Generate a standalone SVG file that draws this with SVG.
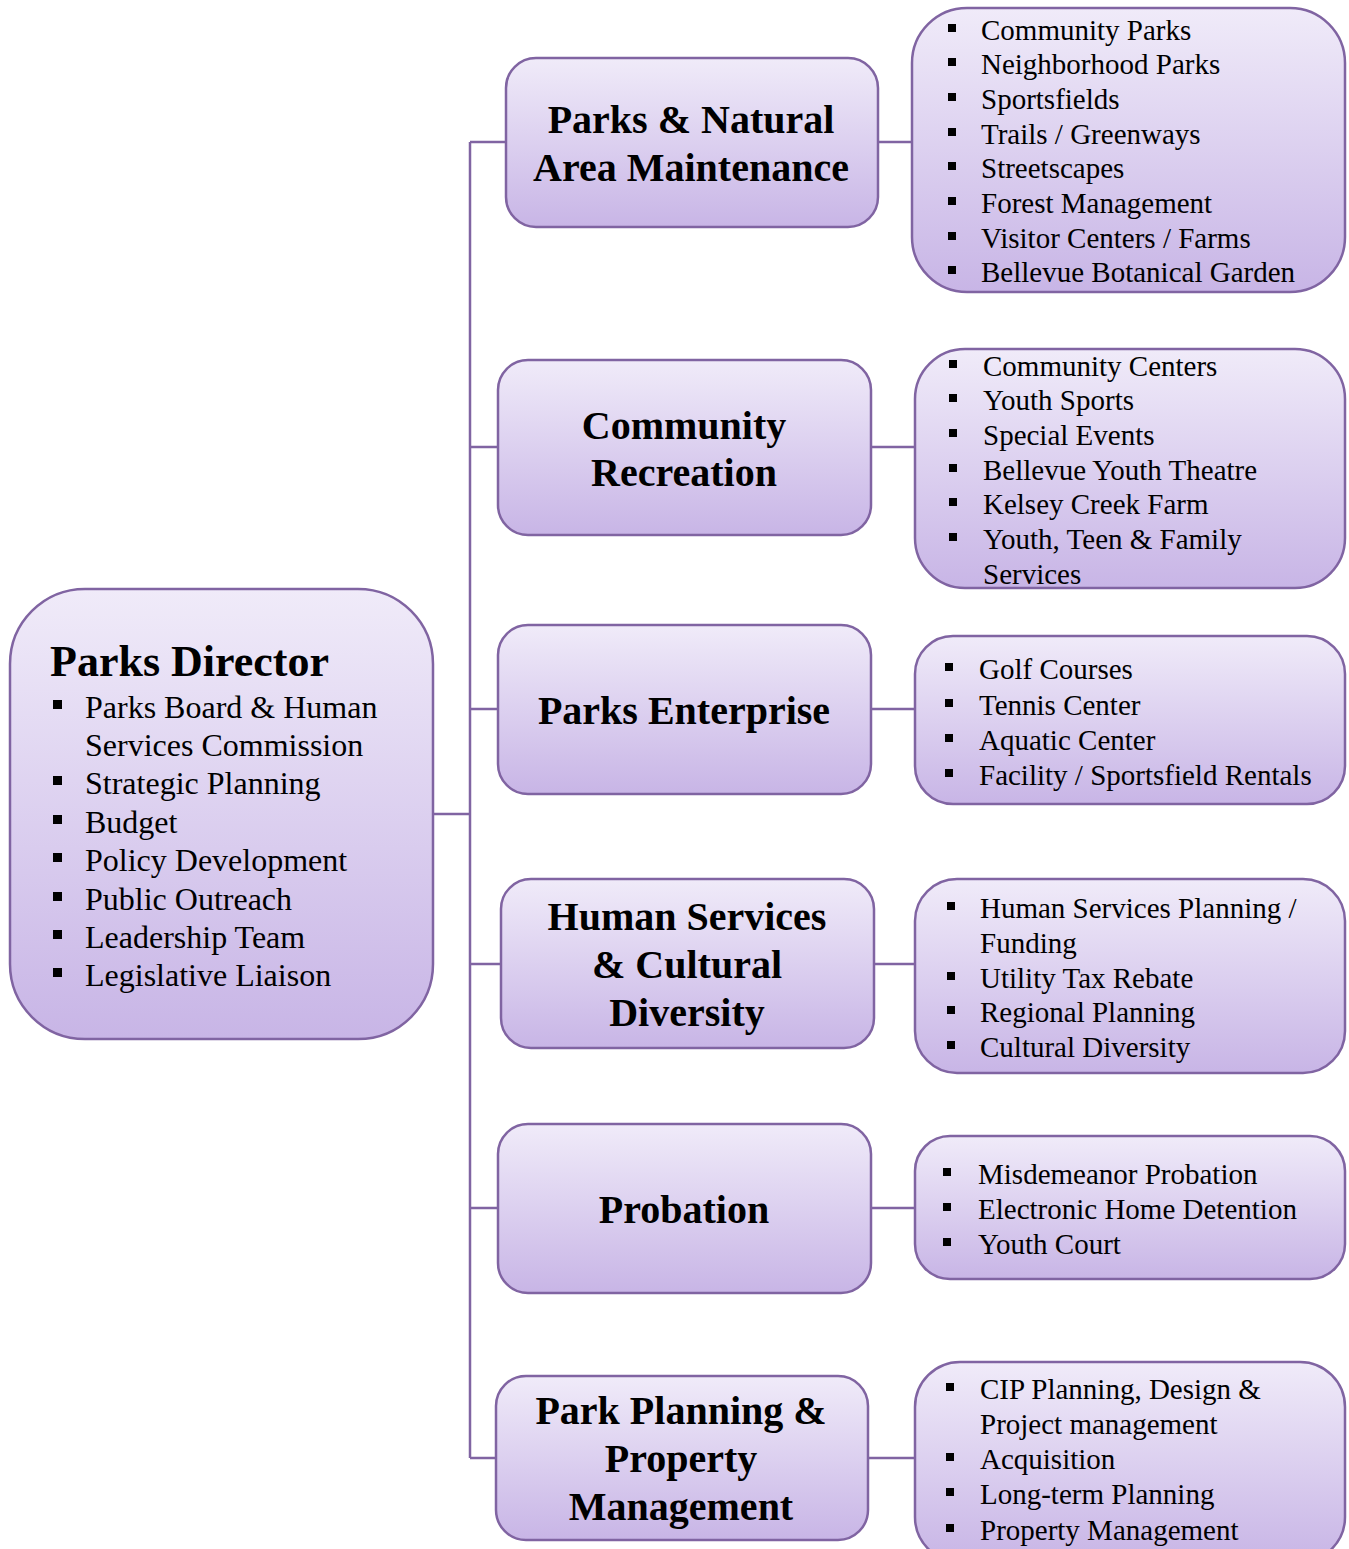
<svg xmlns="http://www.w3.org/2000/svg" width="1349" height="1549" viewBox="0 0 1349 1549">
<defs>
<linearGradient id="g" x1="0" y1="0" x2="0" y2="1">
<stop offset="0" stop-color="#F0EBF9"/>
<stop offset="1" stop-color="#C8B5E6"/>
</linearGradient>
</defs>
<style>
.box{fill:url(#g);stroke:#8064A2;stroke-width:2.5}
.conn{stroke:#8064A2;stroke-width:2.5;fill:none}
.t{font-family:"Liberation Serif","Times New Roman",serif;font-weight:bold;font-size:40px;fill:#000;text-anchor:middle}
.dt{font-family:"Liberation Serif","Times New Roman",serif;font-weight:bold;font-size:44px;fill:#000}
.i{font-family:"Liberation Serif","Times New Roman",serif;font-size:29px;fill:#000}
.di{font-family:"Liberation Serif","Times New Roman",serif;font-size:32px;fill:#000}
.b{fill:#000}
</style>
<rect width="1349" height="1549" fill="#fff"/>
<g id="connectors">
<path class="conn" d="M470 142V1458"/>
<path class="conn" d="M433 814H470"/>
<path class="conn" d="M470 142H506M878 142H912"/>
<path class="conn" d="M470 447H498M871 447H915"/>
<path class="conn" d="M470 709H498M871 709H915"/>
<path class="conn" d="M470 964H501M874 964H915"/>
<path class="conn" d="M470 1208H498M871 1208H915"/>
<path class="conn" d="M470 1458H496M868 1458H915"/>
</g>
<g id="director">
<rect class="box" x="10" y="589" width="423" height="450" rx="75"/>
<text class="dt" x="50" y="676">Parks Director</text>
<g class="b">
<rect x="53" y="700" width="9" height="9"/><rect x="53" y="776" width="9" height="9"/><rect x="53" y="815" width="9" height="9"/><rect x="53" y="853" width="9" height="9"/><rect x="53" y="892" width="9" height="9"/><rect x="53" y="930" width="9" height="9"/><rect x="53" y="968" width="9" height="9"/>
</g>
<text class="di" x="85" y="718">Parks Board &amp; Human</text>
<text class="di" x="85" y="756">Services Commission</text>
<text class="di" x="85" y="794">Strategic Planning</text>
<text class="di" x="85" y="833">Budget</text>
<text class="di" x="85" y="871">Policy Development</text>
<text class="di" x="85" y="910">Public Outreach</text>
<text class="di" x="85" y="948">Leadership Team</text>
<text class="di" x="85" y="986">Legislative Liaison</text>
</g>
<g id="pnam">
<rect class="box" x="506" y="58" width="372" height="169" rx="30"/>
<text class="t" x="691" y="133">Parks &amp; Natural</text>
<text class="t" x="691" y="181">Area Maintenance</text>
</g>
<g id="pnam-list">
<rect class="box" x="912" y="8" width="433" height="284" rx="55"/>
<g class="b">
<rect x="948" y="24" width="8" height="8"/><rect x="948" y="58" width="8" height="8"/><rect x="948" y="93" width="8" height="8"/><rect x="948" y="128" width="8" height="8"/><rect x="948" y="162" width="8" height="8"/><rect x="948" y="197" width="8" height="8"/><rect x="948" y="232" width="8" height="8"/><rect x="948" y="266" width="8" height="8"/>
</g>
<text class="i" x="981" y="40">Community Parks</text>
<text class="i" x="981" y="74">Neighborhood Parks</text>
<text class="i" x="981" y="109">Sportsfields</text>
<text class="i" x="981" y="144">Trails / Greenways</text>
<text class="i" x="981" y="178">Streetscapes</text>
<text class="i" x="981" y="213">Forest Management</text>
<text class="i" x="981" y="248">Visitor Centers / Farms</text>
<text class="i" x="981" y="282">Bellevue Botanical Garden</text>
</g>
<g id="rec">
<rect class="box" x="498" y="360" width="373" height="175" rx="30"/>
<text class="t" x="684" y="439">Community</text>
<text class="t" x="684" y="486">Recreation</text>
</g>
<g id="rec-list">
<rect class="box" x="915" y="349" width="430" height="239" rx="50"/>
<g class="b">
<rect x="949" y="360" width="8" height="8"/><rect x="949" y="394" width="8" height="8"/><rect x="949" y="429" width="8" height="8"/><rect x="949" y="464" width="8" height="8"/><rect x="949" y="498" width="8" height="8"/><rect x="949" y="533" width="8" height="8"/>
</g>
<text class="i" x="983" y="376">Community Centers</text>
<text class="i" x="983" y="410">Youth Sports</text>
<text class="i" x="983" y="445">Special Events</text>
<text class="i" x="983" y="480">Bellevue Youth Theatre</text>
<text class="i" x="983" y="514">Kelsey Creek Farm</text>
<text class="i" x="983" y="549">Youth, Teen &amp; Family</text>
<text class="i" x="983" y="584">Services</text>
</g>
<g id="ent">
<rect class="box" x="498" y="625" width="373" height="169" rx="30"/>
<text class="t" x="684" y="724">Parks Enterprise</text>
</g>
<g id="ent-list">
<rect class="box" x="915" y="636" width="430" height="168" rx="38"/>
<g class="b">
<rect x="945" y="663" width="8" height="8"/><rect x="945" y="699" width="8" height="8"/><rect x="945" y="734" width="8" height="8"/><rect x="945" y="769" width="8" height="8"/>
</g>
<text class="i" x="979" y="679">Golf Courses</text>
<text class="i" x="979" y="715">Tennis Center</text>
<text class="i" x="979" y="750">Aquatic Center</text>
<text class="i" x="979" y="785">Facility / Sportsfield Rentals</text>
</g>
<g id="hs">
<rect class="box" x="501" y="879" width="373" height="169" rx="30"/>
<text class="t" x="687" y="930">Human Services</text>
<text class="t" x="687" y="978">&amp; Cultural</text>
<text class="t" x="687" y="1026">Diversity</text>
</g>
<g id="hs-list">
<rect class="box" x="915" y="879" width="430" height="194" rx="42"/>
<g class="b">
<rect x="947" y="902" width="8" height="8"/><rect x="947" y="972" width="8" height="8"/><rect x="947" y="1006" width="8" height="8"/><rect x="947" y="1041" width="8" height="8"/>
</g>
<text class="i" x="980" y="918">Human Services Planning /</text>
<text class="i" x="980" y="953">Funding</text>
<text class="i" x="980" y="988">Utility Tax Rebate</text>
<text class="i" x="980" y="1022">Regional Planning</text>
<text class="i" x="980" y="1057">Cultural Diversity</text>
</g>
<g id="prob">
<rect class="box" x="498" y="1124" width="373" height="169" rx="30"/>
<text class="t" x="684" y="1223">Probation</text>
</g>
<g id="prob-list">
<rect class="box" x="915" y="1136" width="430" height="143" rx="35"/>
<g class="b">
<rect x="943" y="1168" width="8" height="8"/><rect x="943" y="1203" width="8" height="8"/><rect x="943" y="1238" width="8" height="8"/>
</g>
<text class="i" x="978" y="1184">Misdemeanor Probation</text>
<text class="i" x="978" y="1219">Electronic Home Detention</text>
<text class="i" x="978" y="1254">Youth Court</text>
</g>
<g id="plan">
<rect class="box" x="496" y="1376" width="372" height="164" rx="30"/>
<text class="t" x="681" y="1424">Park Planning &amp;</text>
<text class="t" x="681" y="1472">Property</text>
<text class="t" x="681" y="1520">Management</text>
</g>
<g id="plan-list">
<rect class="box" x="915" y="1362" width="430" height="200" rx="45"/>
<g class="b">
<rect x="946" y="1383" width="8" height="8"/><rect x="946" y="1453" width="8" height="8"/><rect x="946" y="1488" width="8" height="8"/><rect x="946" y="1524" width="8" height="8"/>
</g>
<text class="i" x="980" y="1399">CIP Planning, Design &amp;</text>
<text class="i" x="980" y="1434">Project management</text>
<text class="i" x="980" y="1469">Acquisition</text>
<text class="i" x="980" y="1504">Long-term Planning</text>
<text class="i" x="980" y="1540">Property Management</text>
</g>
</svg>
